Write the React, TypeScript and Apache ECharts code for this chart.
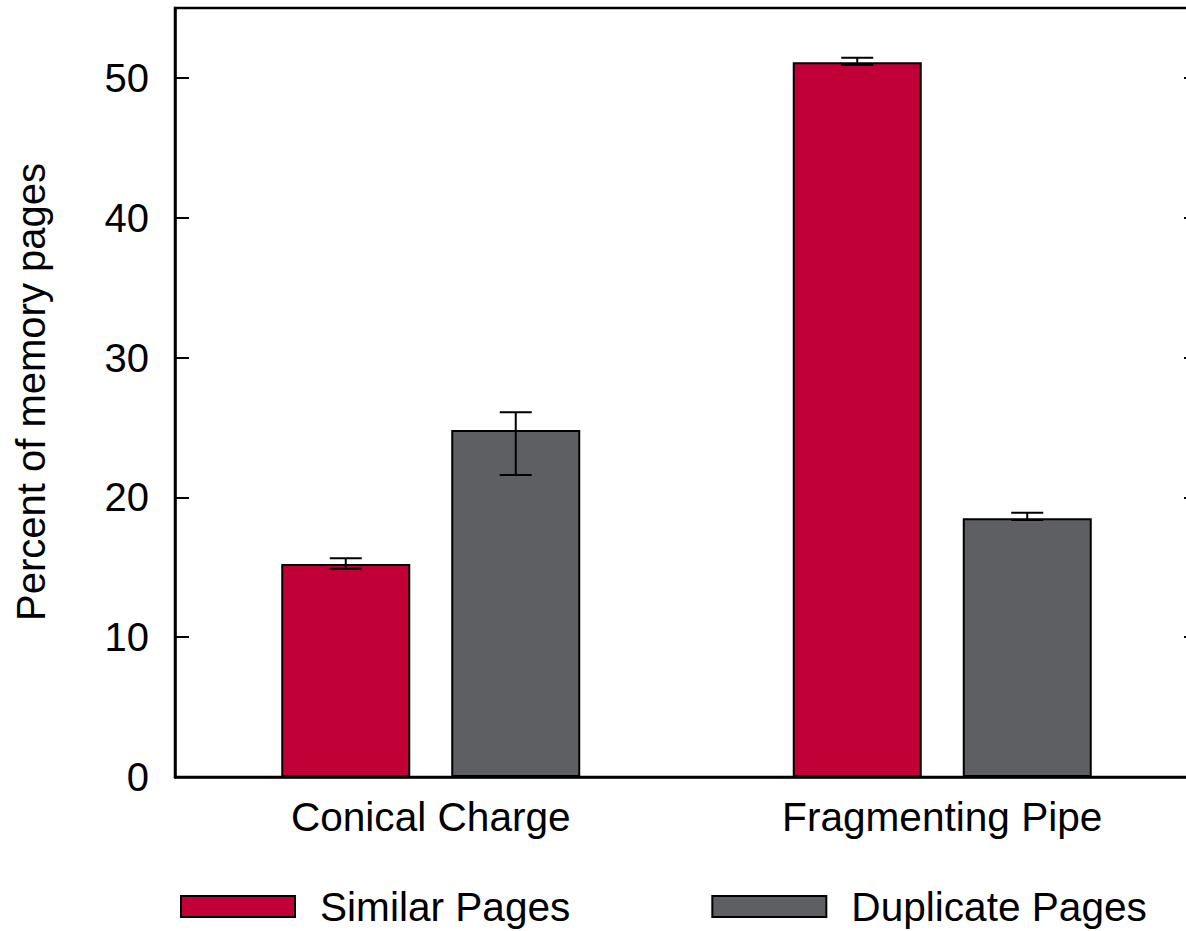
import React, { useEffect, useRef } from "react";
import * as echarts from "echarts";

const categories = ["Conical Charge", "Fragmenting Pipe"];
const seriesNames = ["Similar Pages", "Duplicate Pages"];
const similarValues = [15.24, 51.12];
const duplicateValues = [24.82, 18.5];
const similarErrLow = [14.9, 50.93];
const similarErrHigh = [15.64, 51.45];
const duplicateErrLow = [21.6, 18.38];
const duplicateErrHigh = [26.09, 18.9];
const yTicks = [0, 10, 20, 30, 40, 50];

const RED = "#C10037";
const GRAY = "#5E5F63";
const FONT = "Liberation Sans, Arial, sans-serif";
const BAR_W = 129;
const BAR_GAP = 41;

export default function App() {
  const ref = useRef<HTMLDivElement>(null);
  useEffect(() => {
    if (!ref.current) return;
    const chart = echarts.init(ref.current, null, { renderer: "svg" });
    const offset = (BAR_W + BAR_GAP) / 2;
    const errSeries = (low: number[], high: number[], dir: number, name: string) => ({
      type: "custom",
      name: name + " err",
      z: 5,
      silent: true,
      data: categories.map((_, i) => [i, low[i], high[i]]),
      renderItem: (params: any, api: any) => {
        const lo = api.coord([api.value(0), api.value(1)]);
        const hi = api.coord([api.value(0), api.value(2)]);
        const x = lo[0] + dir * offset;
        const style = { stroke: "#000", lineWidth: 2 };
        return {
          type: "group",
          children: [
            { type: "line", shape: { x1: x, y1: lo[1], x2: x, y2: hi[1] }, style },
            { type: "line", shape: { x1: x - 16, y1: lo[1], x2: x + 16, y2: lo[1] }, style },
            { type: "line", shape: { x1: x - 16, y1: hi[1], x2: x + 16, y2: hi[1] }, style },
          ],
        };
      },
    });
    chart.setOption({
      animation: false,
      textStyle: { fontFamily: FONT },
      grid: {
        left: 175,
        top: 8,
        right: 2,
        bottom: 154,
        show: true,
        borderColor: "#000",
        borderWidth: 2.5,
        backgroundColor: "transparent",
      },
      legend: {
        left: 180,
        top: 886,
        padding: 0,
        icon: "rect",
        itemWidth: 114,
        itemHeight: 21,
        itemGap: 141,
        data: seriesNames,
        textStyle: { fontSize: 40.6, lineHeight: 40, color: "#000", fontFamily: FONT, padding: [0, 0, 0, 20] },
      },
      xAxis: {
        type: "category",
        data: categories,
        axisLine: { lineStyle: { color: "#000", width: 2.5 } },
        axisTick: { show: false },
        axisLabel: { fontSize: 40.6, color: "#000", margin: 19, fontFamily: FONT },
      },
      yAxis: [
        {
          type: "value",
          min: 0,
          max: 55,
          interval: 10,
          axisLine: { show: true, lineStyle: { color: "#000", width: 2.5 } },
          axisTick: { show: true, inside: true, length: 14, lineStyle: { color: "#000", width: 2 } },
          axisLabel: {
            fontSize: 40,
            color: "#000",
            margin: 26,
            fontFamily: FONT,
            formatter: (v: number) => (yTicks.includes(v) ? String(v) : ""),
          },
          splitLine: { show: false },
        },
        {
          type: "value",
          position: "right",
          min: 0,
          max: 55,
          interval: 10,
          axisLine: { show: true, lineStyle: { color: "#000", width: 2.5 } },
          axisTick: { show: true, inside: true, length: 14, lineStyle: { color: "#000", width: 2 } },
          axisLabel: { show: false },
          splitLine: { show: false },
        },
      ],
      graphic: [
        {
          type: "text",
          x: 31,
          y: 392,
          rotation: Math.PI / 2,
          style: {
            text: "Percent of memory pages",
            fontSize: 40,
            fontFamily: FONT,
            fill: "#000",
            align: "center",
            verticalAlign: "middle",
          },
        },
      ],
      series: [
        {
          type: "bar",
          name: seriesNames[0],
          data: similarValues,
          barWidth: BAR_W,
          barGap: (BAR_GAP / BAR_W) * 100 + "%",
          itemStyle: { color: RED, borderColor: "#000", borderWidth: 2 },
        },
        {
          type: "bar",
          name: seriesNames[1],
          data: duplicateValues,
          barWidth: BAR_W,
          barGap: (BAR_GAP / BAR_W) * 100 + "%",
          itemStyle: { color: GRAY, borderColor: "#000", borderWidth: 2 },
        },
        errSeries(similarErrLow, similarErrHigh, -1, seriesNames[0]),
        errSeries(duplicateErrLow, duplicateErrHigh, 1, seriesNames[1]),
      ],
    });
    return () => chart.dispose();
  }, []);
  return (
    <div style={{ position: "absolute", left: 0, top: 0, width: 1186, height: 931, overflow: "hidden" }}>
      <div ref={ref} style={{ position: "absolute", left: 0, top: 0, width: 1200, height: 931 }} />
    </div>
  );
}
